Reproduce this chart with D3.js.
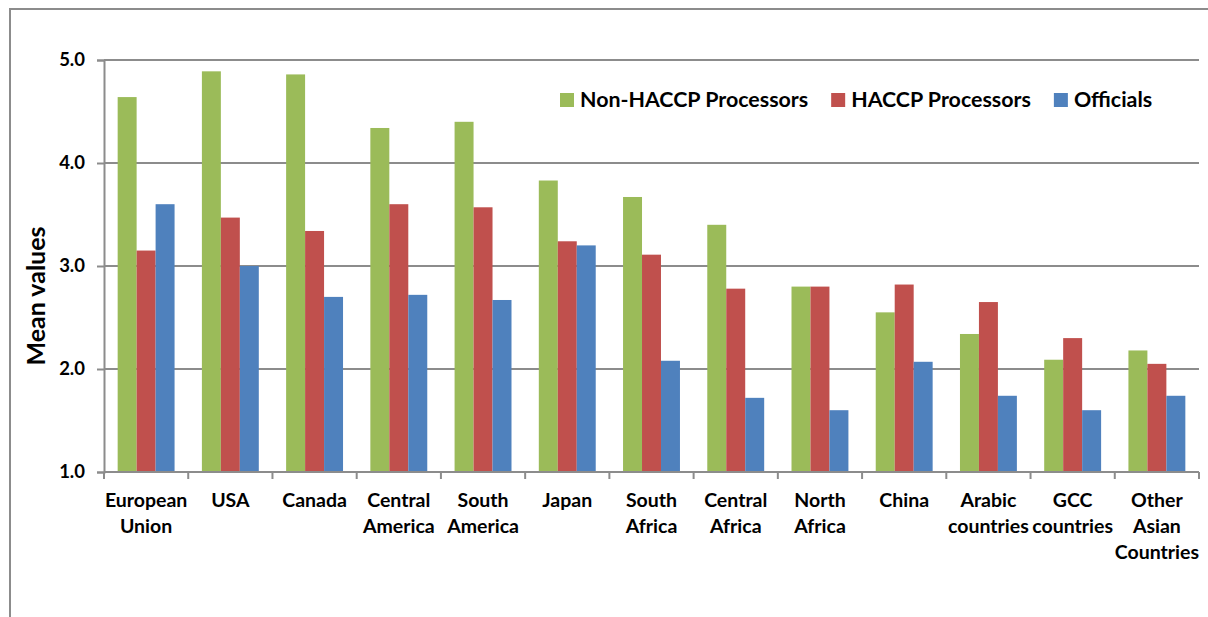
<!DOCTYPE html>
<html>
<head>
<meta charset="utf-8">
<script src="https://cdn.jsdelivr.net/npm/d3@7"></script>
<style>
  html, body { margin: 0; padding: 0; background: #ffffff; }
  svg { display: block; font-family: Lato, "Liberation Sans", sans-serif; font-weight: bold; }
</style>
</head>
<body>
<svg id="chart" width="1208" height="617"></svg>
<script>
// Regions (x-axis categories), each split into label lines
const categories = [
  "European Union", "USA", "Canada", "Central America", "South America", "Japan",
  "South Africa", "Central Africa", "North Africa", "China", "Arabic countries",
  "GCC countries", "Other Asian Countries"
];
const categoryLines = [
  ["European", "Union"], ["USA"], ["Canada"], ["Central", "America"], ["South", "America"],
  ["Japan"], ["South", "Africa"], ["Central", "Africa"], ["North", "Africa"], ["China"],
  ["Arabic", "countries"], ["GCC", "countries"], ["Other", "Asian", "Countries"]
];

// Mean scores per respondent group
const seriesNames = ["Non-HACCP Processors", "HACCP Processors", "Officials"];
const nonHaccp = [4.64, 4.89, 4.86, 4.34, 4.40, 3.83, 3.67, 3.40, 2.80, 2.55, 2.34, 2.09, 2.18];
const haccp    = [3.15, 3.47, 3.34, 3.60, 3.57, 3.24, 3.11, 2.78, 2.80, 2.82, 2.65, 2.30, 2.05];
const officials= [3.60, 3.00, 2.70, 2.72, 2.67, 3.20, 2.08, 1.72, 1.60, 2.07, 1.74, 1.60, 1.74];
const seriesValues = [nonHaccp, haccp, officials];
const seriesColors = ["#9bbb59", "#c0504d", "#4f81bd"];

const yTicks = [1.0, 2.0, 3.0, 4.0, 5.0];
const yTitle = "Mean values";

const svg = d3.select("#chart");
const gridColor = "#8c8c8c";

// outer frame
svg.append("rect")
  .attr("x", 10).attr("y", 9).attr("width", 1400).attr("height", 800)
  .attr("fill", "none").attr("stroke", gridColor).attr("stroke-width", 2);

const plot = { left: 104, right: 1199, top: 60, bottom: 472 };

const x = d3.scaleBand().domain(categories).range([plot.left, plot.right]).padding(0);
const xInner = d3.scaleBand().domain(seriesNames).range([0, x.bandwidth()])
  .paddingInner(0).paddingOuter(0.72);
const y = d3.scaleLinear().domain([1, 5]).range([plot.bottom, plot.top]);

// horizontal gridlines
svg.append("g").selectAll("line")
  .data(yTicks.filter(t => t > 1))
  .join("line")
  .attr("x1", plot.left).attr("x2", plot.right)
  .attr("y1", d => y(d)).attr("y2", d => y(d))
  .attr("stroke", gridColor).attr("stroke-width", 2);

// bars
const rows = categories.map((c, i) => ({ c, vals: seriesNames.map((s, k) => ({ s, k, v: seriesValues[k][i] })) }));
svg.append("g").selectAll("g")
  .data(rows)
  .join("g")
  .attr("transform", d => `translate(${x(d.c)},0)`)
  .selectAll("rect")
  .data(d => d.vals)
  .join("rect")
  .attr("x", d => xInner(d.s))
  .attr("width", xInner.bandwidth())
  .attr("y", d => y(d.v))
  .attr("height", d => y(1) - y(d.v))
  .attr("fill", d => seriesColors[d.k]);

// y axis
const yAxis = svg.append("g")
  .attr("transform", `translate(${plot.left},0)`)
  .call(d3.axisLeft(y).tickValues(yTicks).tickFormat(d3.format(".1f")).tickSize(7).tickPadding(12));
yAxis.select(".domain").attr("stroke", gridColor).attr("stroke-width", 2);
yAxis.selectAll(".tick line").attr("stroke", gridColor).attr("stroke-width", 2);
yAxis.selectAll(".tick text")
  .attr("fill", "#000").style("font-size", "18.5px").style("font-family", "Lato").style("font-weight", "bold");

// x axis: line, boundary ticks, multi-line labels
const xAxis = svg.append("g").attr("transform", `translate(0,${plot.bottom})`);
xAxis.append("line")
  .attr("x1", plot.left).attr("x2", plot.right)
  .attr("stroke", gridColor).attr("stroke-width", 2);
const bounds = categories.map(c => x(c)).concat([plot.right]);
xAxis.selectAll("line.tk")
  .data(bounds)
  .join("line").attr("class", "tk")
  .attr("x1", d => d).attr("x2", d => d)
  .attr("y1", 0).attr("y2", 7)
  .attr("stroke", gridColor).attr("stroke-width", 2);
xAxis.selectAll("text.cat")
  .data(categories)
  .join("text").attr("class", "cat")
  .attr("text-anchor", "middle")
  .attr("transform", d => `translate(${x(d) + x.bandwidth() / 2},35)`)
  .style("font-size", "19.5px")
  .attr("fill", "#000")
  .selectAll("tspan")
  .data((d, i) => categoryLines[i])
  .join("tspan")
  .attr("x", 0)
  .attr("y", (d, j) => j * 26)
  .text(d => d);

// y axis title
svg.append("text")
  .attr("transform", "translate(45,296) rotate(-90)")
  .attr("text-anchor", "middle")
  .style("font-size", "25px")
  .attr("fill", "#000")
  .text(yTitle);

// legend
const legend = svg.append("g").attr("transform", "translate(560,0)");
let lx = 0;
seriesNames.forEach((name, k) => {
  const item = legend.append("g").attr("transform", `translate(${lx},0)`);
  item.append("rect")
    .attr("x", 0).attr("y", 93).attr("width", 14).attr("height", 14)
    .attr("fill", seriesColors[k]);
  const t = item.append("text")
    .attr("x", 20).attr("y", 106.5)
    .style("font-size", "21.4px")
    .attr("fill", "#000")
    .text(name);
  lx += 20 + t.node().getComputedTextLength() + 23;
});
</script>
</body>
</html>
